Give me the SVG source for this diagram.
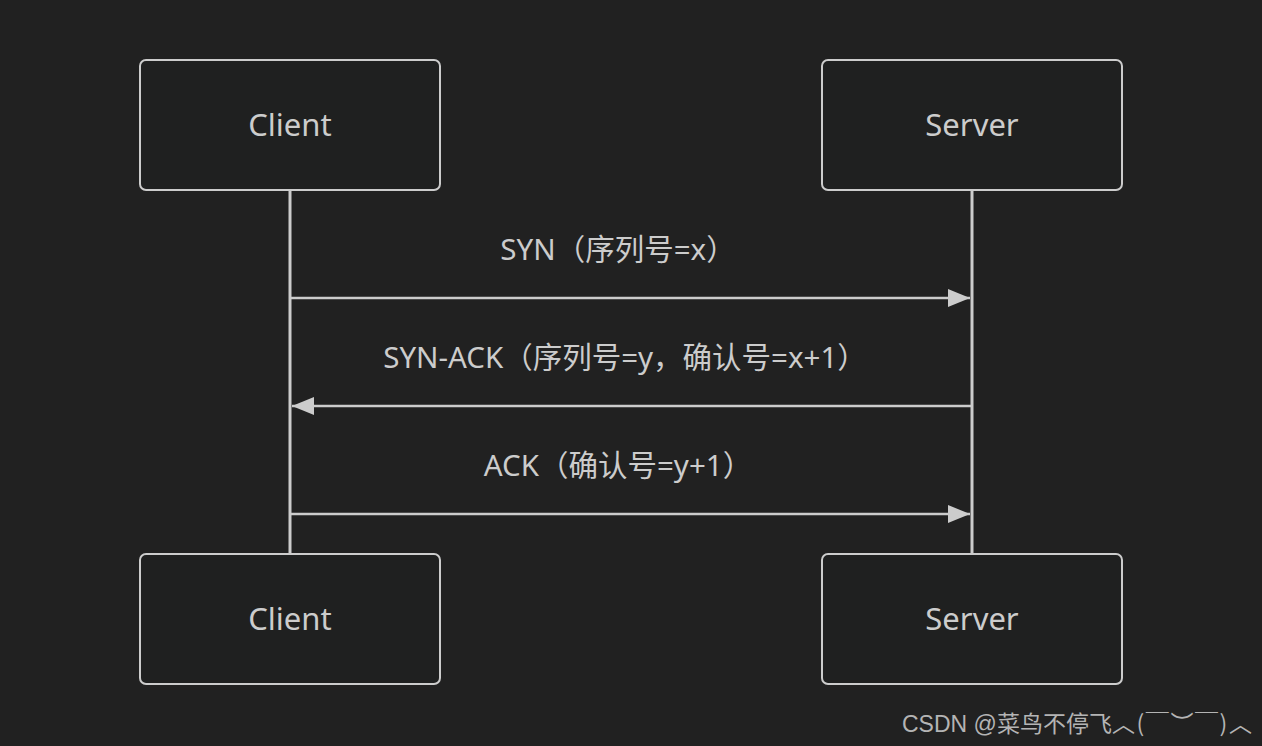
<svg xmlns="http://www.w3.org/2000/svg" width="1262" height="746" viewBox="0 0 1262 746">
<style>
.box{fill:#1f2020;stroke:#cccccc;stroke-width:2}
.life{stroke:#cccccc;stroke-width:3}
.msg{stroke:#cccccc;stroke-width:2.5;fill:none}
.t{font-family:"Noto Sans","Noto Sans CJK SC",sans-serif;fill:#cccccc;text-anchor:middle}
.name{font-size:31px}
.lab{font-size:29.5px}
.wm{font-family:"Liberation Sans","Noto Sans CJK SC",sans-serif;font-size:23px;fill:#b4b4b4}
.cjk{font-family:"Noto Sans CJK SC",sans-serif}
</style>
<defs>
<marker id="ah" markerWidth="22" markerHeight="18" refX="22" refY="9" orient="auto" markerUnits="userSpaceOnUse">
<path d="M0,0 L22,9 L0,18 Z" fill="#cccccc"/>
</marker>
</defs>
<rect width="1262" height="746" fill="#212121"/>
<g id="lifelines">
<line class="life" x1="290" y1="190" x2="290" y2="554"/>
<line class="life" x1="972" y1="190" x2="972" y2="554"/>
</g>
<g id="client-top"><rect class="box" x="140" y="60" width="300" height="130" rx="6"/><text class="t name" x="290" y="136">Client</text></g>
<g id="server-top"><rect class="box" x="822" y="60" width="300" height="130" rx="6"/><text class="t name" x="972" y="136">Server</text></g>
<g id="client-bottom"><rect class="box" x="140" y="554" width="300" height="130" rx="6"/><text class="t name" x="290" y="630">Client</text></g>
<g id="server-bottom"><rect class="box" x="822" y="554" width="300" height="130" rx="6"/><text class="t name" x="972" y="630">Server</text></g>
<g id="connectors">
<line class="msg" x1="291" y1="298" x2="970" y2="298" marker-end="url(#ah)"/>
<text class="t lab" x="618" y="260">SYN（序列号=x）</text>
<line class="msg" x1="971" y1="406" x2="292" y2="406" marker-end="url(#ah)"/>
<text class="t lab" x="625" y="368">SYN-ACK（序列号=y，确认号=x+1）</text>
<line class="msg" x1="291" y1="514" x2="970" y2="514" marker-end="url(#ah)"/>
<text class="t lab" x="618" y="476">ACK（确认号=y+1）</text>
</g>
<text class="wm" x="902" y="732">CSDN @菜鸟不停飞<tspan class="cjk" textLength="140" lengthAdjust="spacing">︿(￣︶￣)︿</tspan></text>
</svg>
